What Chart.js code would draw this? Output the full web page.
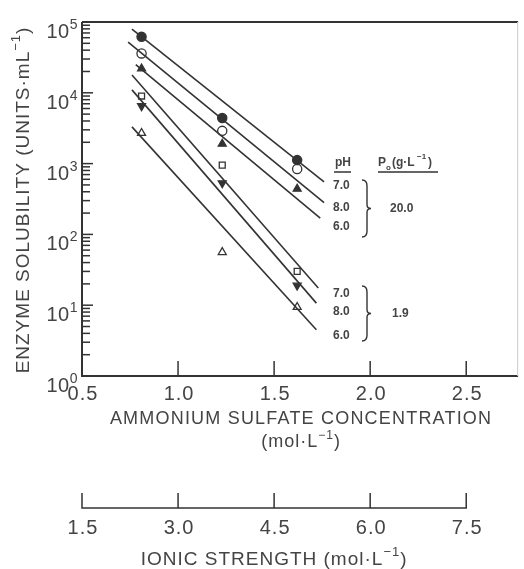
<!DOCTYPE html>
<html lang="en">
<head>
<meta charset="UTF-8">
<title>Enzyme solubility vs ammonium sulfate</title>
<script src="https://cdn.jsdelivr.net/npm/chart.js@4.4.1/dist/chart.umd.min.js"></script>
<style>
  html, body { margin: 0; padding: 0; background: #fff; }
  #wrap { width: 524px; height: 569px; }
</style>
</head>
<body>
<div id="wrap"><canvas id="chart" width="524" height="569"></canvas></div>
<script>
// ammonium sulfate concentration (mol/L) of the measured points
const concentration = [0.81, 1.23, 1.62];

// enzyme solubility (units/mL), Po = 20.0 g/L
const ph7High = [6.2e4, 4.4e3, 1.12e3];
const ph8High = [3.6e4, 2.9e3, 8.4e2];
const ph6High = [2.2e4, 1.9e3, 4.4e2];
// Po = 1.9 g/L
const ph7Low = [9.0e3, 9.5e2, 30];
const ph8Low = [6.5e3, 5.3e2, 19];
const ph6Low = [2.7e3, 56, 9.4];

// fitted lines, same order as above: start / end
const fitX0 = [0.76, 0.74, 0.78, 0.76, 0.76, 0.76];
const fitX1 = [1.76, 1.76, 1.74, 1.73, 1.72, 1.72];
const fitY0 = [7.9e4, 5.2e4, 2.5e4, 1.78e4, 1.1e4, 3.3e3];
const fitY1 = [5.5e2, 2.8e2, 1.7e2, 17.5, 10.7, 4.5];

const xTicks = [0.5, 1.0, 1.5, 2.0, 2.5];
const yExponents = [0, 1, 2, 3, 4, 5];
const ionicTicks = [1.5, 3.0, 4.5, 6.0, 7.5];
const phLabels = ['7.0', '8.0', '6.0'];
const poLabels = ['20.0', '1.9'];

const ink = '#333';
const textInk = '#444';
const FONT = '"Liberation Sans", Arial, sans-serif';

const series = [
  { values: ph7High, style: 'circle', filled: true, rot: 0 },
  { values: ph8High, style: 'circle', filled: false, rot: 0 },
  { values: ph6High, style: 'triangle', filled: true, rot: 0 },
  { values: ph7Low, style: 'rect', filled: false, rot: 0 },
  { values: ph8Low, style: 'triangle', filled: true, rot: 180 },
  { values: ph6Low, style: 'triangle', filled: false, rot: 0 }
];

const datasets = [];
fitX0.forEach((x0, i) => {
  datasets.push({
    data: [{ x: x0, y: fitY0[i] }, { x: fitX1[i], y: fitY1[i] }],
    showLine: true,
    borderColor: ink,
    borderWidth: 1.6,
    pointRadius: 0
  });
});
series.forEach(s => {
  datasets.push({
    data: concentration.map((c, i) => ({ x: c, y: s.values[i] })),
    showLine: false,
    pointStyle: s.style,
    rotation: s.rot,
    pointRadius: s.style === 'rect' ? 4.2 : 4.6,
    borderColor: ink,
    borderWidth: 1.3,
    backgroundColor: s.filled ? ink : '#fff'
  });
});

function supText(ctx, parts, x, y, size, align, spacing) {
  // parts: [text, isSup] pairs
  const supSize = Math.round(size * 0.68);
  ctx.letterSpacing = (spacing || 0) + 'px';
  let w = 0;
  parts.forEach(p => {
    ctx.font = (p[1] ? supSize : size) + 'px ' + FONT;
    w += ctx.measureText(p[0]).width;
  });
  let cx = align === 'right' ? x - w : align === 'center' ? x - w / 2 : x;
  ctx.textAlign = 'left';
  ctx.textBaseline = 'alphabetic';
  parts.forEach(p => {
    ctx.font = (p[1] ? supSize : size) + 'px ' + FONT;
    ctx.fillText(p[0], cx, p[1] ? y - size * 0.45 : y);
    cx += ctx.measureText(p[0]).width;
  });
  ctx.letterSpacing = '0px';
}

function brace(ctx, x, y0, y1) {
  const ym = (y0 + y1) / 2;
  ctx.beginPath();
  ctx.moveTo(x, y0);
  ctx.quadraticCurveTo(x + 5, y0, x + 5, y0 + 6);
  ctx.lineTo(x + 5, ym - 4);
  ctx.quadraticCurveTo(x + 5, ym, x + 9, ym);
  ctx.quadraticCurveTo(x + 5, ym, x + 5, ym + 4);
  ctx.lineTo(x + 5, y1 - 6);
  ctx.quadraticCurveTo(x + 5, y1, x, y1);
  ctx.stroke();
}

const decorations = {
  id: 'decorations',
  afterDraw(chart) {
    const ctx = chart.ctx;
    const a = chart.chartArea;
    const xs = chart.scales.x, ys = chart.scales.y;
    ctx.save();
    ctx.strokeStyle = ink;
    ctx.fillStyle = textInk;

    // frame
    ctx.lineWidth = 2;
    ctx.beginPath();
    ctx.moveTo(a.left, a.top); ctx.lineTo(a.right, a.top);
    ctx.moveTo(a.left, a.top); ctx.lineTo(a.left, a.bottom);
    ctx.moveTo(a.left - 1, a.bottom); ctx.lineTo(a.right, a.bottom);
    ctx.stroke();
    ctx.strokeStyle = '#ccc';
    ctx.lineWidth = 1;
    ctx.beginPath();
    ctx.moveTo(a.right - 0.5, a.top); ctx.lineTo(a.right - 0.5, a.bottom);
    ctx.stroke();
    ctx.strokeStyle = ink;

    // x ticks (inward)
    ctx.lineWidth = 1.5;
    xTicks.forEach(v => {
      const px = xs.getPixelForValue(v);
      ctx.beginPath(); ctx.moveTo(px, a.bottom); ctx.lineTo(px, a.bottom - 15); ctx.stroke();
    });
    // y ticks, major and minor (inward)
    yExponents.forEach(e => {
      const py = ys.getPixelForValue(Math.pow(10, e));
      ctx.beginPath(); ctx.moveTo(a.left, py); ctx.lineTo(a.left + 11, py); ctx.stroke();
      if (e < 5) {
        for (let k = 2; k <= 9; k++) {
          const my = ys.getPixelForValue(k * Math.pow(10, e));
          ctx.beginPath(); ctx.moveTo(a.left, my); ctx.lineTo(a.left + 8, my); ctx.stroke();
        }
      }
    });

    // x tick labels
    ctx.font = '20px ' + FONT;
    ctx.letterSpacing = '1px';
    ctx.textAlign = 'center';
    ctx.textBaseline = 'middle';
    xTicks.forEach(v => {
      ctx.fillText(v.toFixed(1), xs.getPixelForValue(v) + 1, a.bottom + 18);
    });
    ctx.letterSpacing = '0px';
    // y tick labels
    yExponents.forEach(e => {
      const py = ys.getPixelForValue(Math.pow(10, e));
      supText(ctx, [['10', false], [String(e), true]], a.left - 4, py + 16, 20, 'right', 0.5);
    });

    // axis titles
    ctx.font = '18px ' + FONT;
    ctx.letterSpacing = '1.2px';
    ctx.textAlign = 'center';
    ctx.textBaseline = 'middle';
    const midX = xs.getPixelForValue(1.63);
    ctx.fillText('AMMONIUM SULFATE CONCENTRATION', midX + 2, a.bottom + 43);
    ctx.letterSpacing = '0px';
    supText(ctx, [['(mol·L', false], ['−1', true], [')', false]], midX + 2, a.bottom + 71, 18, 'center', 1);

    ctx.save();
    ctx.translate(22, (a.top + a.bottom) / 2 + 1);
    ctx.rotate(-Math.PI / 2);
    supText(ctx, [['ENZYME SOLUBILITY (UNITS·mL', false], ['−1', true], [')', false]], 0, 7, 19, 'center', 1);
    ctx.restore();

    // ionic strength axis
    const iy = 508;
    const ix = v => xs.getPixelForValue(v / 3);
    ctx.lineWidth = 1.5;
    ctx.beginPath();
    ctx.moveTo(ix(ionicTicks[0]), iy); ctx.lineTo(ix(ionicTicks[ionicTicks.length - 1]), iy);
    ionicTicks.forEach(v => { ctx.moveTo(ix(v), iy + 0.75); ctx.lineTo(ix(v), iy - 15); });
    ctx.stroke();
    ctx.font = '20px ' + FONT;
    ctx.letterSpacing = '1px';
    ctx.textAlign = 'center';
    ctx.textBaseline = 'middle';
    ionicTicks.forEach(v => ctx.fillText(v.toFixed(1), ix(v) + 1, iy + 20));
    ctx.letterSpacing = '0px';
    supText(ctx, [['IONIC STRENGTH (mol·L', false], ['−1', true], [')', false]], ix(4.5), iy + 57, 19, 'center', 1);

    // legend annotations
    ctx.font = 'bold 12px ' + FONT;
    ctx.textAlign = 'left';
    ctx.textBaseline = 'middle';
    ctx.fillText('pH', 335, 163);
    ctx.fillText('P', 378, 163);
    ctx.font = 'bold 8px ' + FONT;
    ctx.fillText('o', 386, 168);
    ctx.font = 'bold 12px ' + FONT;
    ctx.fillText('(g·L', 392, 163);
    ctx.font = 'bold 8px ' + FONT;
    ctx.fillText('−1', 417, 157);
    ctx.font = 'bold 12px ' + FONT;
    ctx.fillText(')', 428, 163);
    ctx.lineWidth = 1.5;
    ctx.beginPath();
    ctx.moveTo(334, 172); ctx.lineTo(351, 172);
    ctx.moveTo(378, 172); ctx.lineTo(438, 172);
    ctx.stroke();

    const groupY = [[186, 208, 227], [294, 312, 336]];
    const braceY = [[180, 237], [286, 341]];
    const poX = [390, 392];
    groupY.forEach((ys3, g) => {
      ctx.font = 'bold 12px ' + FONT;
      ys3.forEach((y, i) => ctx.fillText(phLabels[i], 333, y));
      ctx.lineWidth = 1.4;
      brace(ctx, 362, braceY[g][0], braceY[g][1]);
      ctx.fillText(poLabels[g], poX[g], (braceY[g][0] + braceY[g][1]) / 2);
    });
    ctx.restore();
  }
};

new Chart(document.getElementById('chart'), {
  type: 'scatter',
  data: { datasets: datasets },
  options: {
    responsive: false,
    animation: false,
    layout: { padding: { left: 82, top: 22, right: 4, bottom: 193 } },
    plugins: { legend: { display: false }, tooltip: { enabled: false } },
    scales: {
      x: { type: 'linear', min: 0.5, max: 2.77, display: false },
      y: { type: 'logarithmic', min: 1, max: 1e5, display: false }
    }
  },
  plugins: [decorations]
});
</script>
</body>
</html>
